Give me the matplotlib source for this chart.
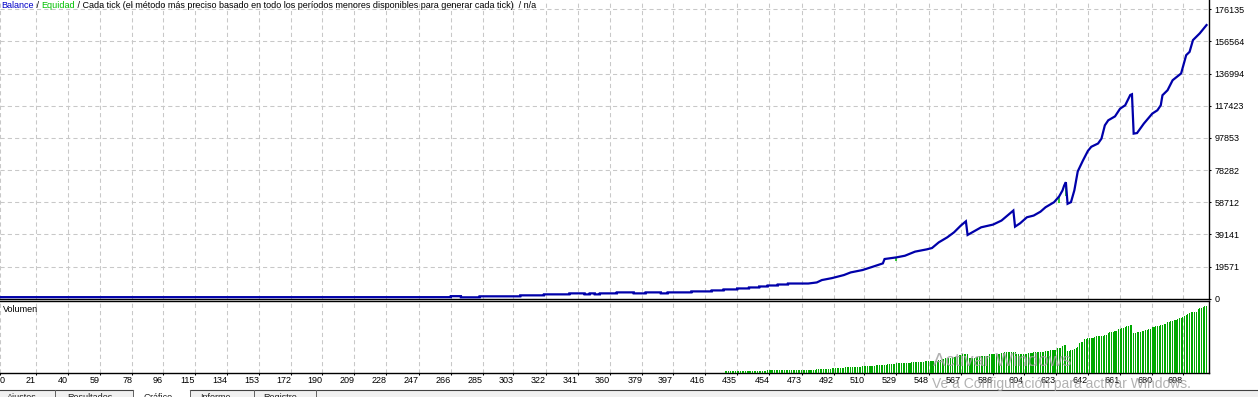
import numpy as np
import matplotlib
matplotlib.use('Agg')
import matplotlib.pyplot as plt
from matplotlib.patches import Rectangle
from matplotlib.lines import Line2D

plt.rcParams['font.family'] = ['Liberation Sans', 'DejaVu Sans']

# balance curve: trade number -> balance
bal_trade = [0, 266, 266, 272, 272, 283, 283, 307, 307, 321, 321, 336, 336, 345, 345, 348, 348, 351, 351, 354,
             354, 364, 364, 374, 374, 381, 381, 390, 390, 394, 394, 408, 408, 420, 420, 427, 427, 435, 435, 442,
             442, 448, 448, 453, 453, 459, 459, 465, 465, 477,
             482, 485, 491, 498, 502, 509, 515, 521, 522, 529, 534, 540, 547, 550, 554, 559, 563, 567, 570, 571,
             579, 586, 591, 598, 599, 602, 606, 610, 614, 617, 622, 625, 627, 628, 629, 630, 632, 634, 636, 639,
             642, 644, 648, 650, 652, 654, 658, 661, 664, 667, 668, 669, 671, 675, 680, 683, 685, 686, 689, 692,
             697, 700, 702, 704, 708, 712]
bal_value = [1000, 1000, 1600, 1600, 900, 900, 1500, 1500, 2100, 2100, 2700, 2700, 3300, 3300, 2700, 2700, 3300, 3300, 2700, 2700,
             3300, 3300, 3900, 3900, 3300, 3300, 3900, 3900, 3300, 3300, 3900, 3900, 4500, 4500, 5100, 5100, 5700, 5700, 6300, 6300,
             6900, 6900, 7500, 7500, 8100, 8100, 8700, 8700, 9300, 9300,
             9950, 11400, 12600, 14450, 16050, 17500, 19500, 21550, 24200, 25200, 26200, 28700, 30100, 30900, 34350, 37400, 40450, 44550, 47150, 38850,
             43500, 45150, 47600, 53700, 43900, 45950, 49600, 50650, 53000, 55700, 58750, 62250, 65900, 68950, 70950, 57800, 58800, 66000, 77500, 84000,
             90000, 92500, 94500, 97450, 105550, 108600, 111000, 115700, 117750, 124000, 124450, 100500, 100850, 106600, 112700, 114700, 117750, 123850, 126900, 133000,
             137100, 148250, 150250, 157400, 161500, 166550]

# equity dips (trade, balance at that moment, lowest equity)
eq_trade = [529, 625, 629]
eq_top = [25200, 62250, 68950]
eq_low = [23200, 58100, 62800]

# volume per trade, lots, first visible bar is trade 428
vol_start = 428
volume = [
    0.05, 0.05, 0.05, 0.05, 0.05, 0.05, 0.05, 0.05, 0.05, 0.05,
    0.05, 0.05, 0.05, 0.05, 0.05, 0.05, 0.05, 0.05, 0.05, 0.05,
    0.05, 0.05, 0.05, 0.05, 0.05,
    0.07, 0.07, 0.07, 0.07, 0.07, 0.07, 0.07, 0.07, 0.07, 0.07,
    0.08, 0.08, 0.08, 0.08, 0.08, 0.08, 0.08, 0.08, 0.08, 0.08,
    0.08, 0.08, 0.08, 0.08, 0.08, 0.08, 0.08, 0.08, 0.08,
    0.10, 0.10, 0.10, 0.10, 0.10, 0.10, 0.10, 0.10, 0.10,
    0.12, 0.12, 0.12, 0.13, 0.13, 0.13, 0.13, 0.13,
    0.15, 0.15, 0.15, 0.15, 0.15, 0.15, 0.15, 0.15, 0.15, 0.15,
    0.17, 0.17, 0.17, 0.17, 0.18, 0.18, 0.18, 0.18,
    0.20, 0.20, 0.20, 0.20, 0.20, 0.20, 0.20,
    0.22, 0.22, 0.22, 0.23, 0.23,
    0.25, 0.25, 0.25, 0.25, 0.25, 0.25, 0.25, 0.25, 0.25,
    0.27, 0.27, 0.27, 0.27, 0.28, 0.28, 0.28, 0.28,
    0.30, 0.30, 0.30, 0.30, 0.30, 0.30, 0.30, 0.30,
    0.33, 0.33, 0.34, 0.34,
    0.37, 0.37, 0.38, 0.38, 0.39, 0.39, 0.40, 0.40,
    0.44, 0.45, 0.46, 0.46, 0.47, 0.47,
    0.36, 0.36, 0.37, 0.37,
    0.40, 0.40, 0.41, 0.41, 0.41, 0.42, 0.42, 0.42,
    0.46, 0.46, 0.47, 0.47, 0.48, 0.48, 0.48,
    0.50, 0.50, 0.51, 0.51, 0.52, 0.52, 0.53, 0.53, 0.53,
    0.47, 0.47, 0.47, 0.47, 0.48, 0.48, 0.48,
    0.50, 0.50, 0.50, 0.51, 0.51, 0.51, 0.52, 0.52, 0.52, 0.52,
    0.54, 0.55, 0.55, 0.56, 0.57, 0.58, 0.58,
    0.61, 0.62, 0.63,
    0.67, 0.69, 0.70,
    0.54, 0.55, 0.56, 0.57,
    0.60, 0.62, 0.64,
    0.75, 0.77, 0.78,
    0.84, 0.85, 0.86, 0.86, 0.87, 0.88,
    0.90, 0.91, 0.91, 0.92, 0.93, 0.93, 0.94, 0.95,
    1.00, 1.01, 1.02, 1.03, 1.04, 1.05,
    1.09, 1.10, 1.12, 1.13, 1.15, 1.16, 1.18, 1.19, 1.20,
    0.99, 1.00, 1.01, 1.02, 1.03, 1.04, 1.05, 1.06, 1.07, 1.09, 1.10,
    1.14, 1.15, 1.16, 1.17, 1.18, 1.19, 1.20, 1.21, 1.22,
    1.27, 1.28, 1.29, 1.30, 1.32, 1.33, 1.34, 1.36, 1.37,
    1.39, 1.42, 1.45, 1.48, 1.50,
    1.52, 1.52, 1.53, 1.53,
    1.60, 1.61, 1.62, 1.64, 1.66, 1.68,
]

y_ticks = [0, 19571, 39141, 58712, 78282, 97853, 117423, 136994, 156564, 176135]
x_ticks = [0, 21, 40, 59, 78, 96, 115, 134, 153, 172, 190, 209, 228, 247, 266, 285, 303, 322, 341, 360,
           379, 397, 416, 435, 454, 473, 492, 510, 529, 548, 567, 586, 604, 623, 642, 661, 680, 698]

header_parts = [('Balance', '#0000c8'), (' / ', 'black'), ('Equidad', '#00c000'),
                (' / Cada tick (el método más preciso basado en todo los períodos menores disponibles para generar cada tick)  / n/a', 'black')]
tabs = [('Ajustes', 7), ('Resultados', 67), ('Gráfico', 144), ('Informe', 200), ('Registro', 263)]

W, H = 1258, 397
fig = plt.figure(figsize=(W / 100, H / 100), dpi=100)
fig.patch.set_facecolor('white')

def fx(px):
    return px / W

def fy(py):
    return 1 - py / H

grid_kw = dict(color='#c8c8c8', linewidth=0.75, linestyle=(0, (4, 3)))
xlim = (2.96, 713.46)

# main balance panel
ax = fig.add_axes([0, fy(298.8), fx(1209), 1 - fy(298.8)])
ax.set_xlim(*xlim)
ax.set_ylim(0, 181800)
ax.plot(bal_trade, bal_value, color='#0000aa', linewidth=1.6, zorder=3, solid_joinstyle='miter')
ax.vlines(eq_trade, eq_low, eq_top, color='#00c000', linewidth=1.1, zorder=2)
ax.set_yticks(y_ticks)
ax.set_yticklabels([str(v) for v in y_ticks])
ax.yaxis.tick_right()
ax.tick_params(axis='y', direction='out', length=1.5, width=0.75, pad=2.5, labelsize=6.5, colors='black')
ax.set_xticks(x_ticks)
ax.tick_params(axis='x', length=0, labelbottom=False)
ax.grid(True, **grid_kw)
ax.set_axisbelow(True)
for s in ['left', 'top']:
    ax.spines[s].set_visible(False)
for s in ['right', 'bottom']:
    ax.spines[s].set_linewidth(1.0)
    ax.spines[s].set_color('black')

# header line built piece by piece
prev = ax.text(fx(1), fy(1.5), header_parts[0][0], transform=fig.transFigure, color=header_parts[0][1],
               fontsize=6.5, ha='left', va='top')
for txt, col in header_parts[1:]:
    prev = ax.annotate(txt, xy=(1, 0), xycoords=prev, ha='left', va='bottom', color=col,
                       fontsize=6.5, annotation_clip=False)

# volume panel
axv = fig.add_axes([0, fy(372.7), fx(1209), fy(300.5) - fy(372.7)])
axv.set_xlim(*xlim)
vol_x = np.arange(vol_start, vol_start + len(volume))
axv.bar(vol_x, volume, width=0.62, color='#00a800', linewidth=0, zorder=3)
axv.set_ylim(0, max(volume) * 72.2 / 67)
axv.set_yticks([])
axv.set_xticks(x_ticks)
axv.set_xticklabels([str(v) for v in x_ticks])
for lbl in axv.get_xticklabels():
    lbl.set_ha('right')
axv.tick_params(axis='x', direction='out', length=1.5, width=0.75, pad=1.2, labelsize=6.5, colors='black')
axv.grid(True, axis='x', **grid_kw)
axv.set_axisbelow(True)
axv.spines['left'].set_visible(False)
for s in ['right', 'bottom', 'top']:
    axv.spines[s].set_linewidth(1.0)
    axv.spines[s].set_color('black')
axv.text(fx(3), fy(309), 'Volumen', transform=fig.transFigure, fontsize=6.5, ha='left', va='center')
fig.text(fx(0), fy(380.5), '0', fontsize=6.5, ha='left', va='center')

# windows watermark
fig.text(fx(933), fy(362), 'Activar Windows', fontsize=13.5, color='#a4a4a4', alpha=0.85, ha='left', va='center', zorder=10)
fig.text(fx(932), fy(384), 'Ve a Configuración para activar Windows.', fontsize=10, color='#a4a4a4', alpha=0.85,
         ha='left', va='center', zorder=10)

# tab strip at the bottom
fig.patches.append(Rectangle((0, 0), 1, fy(390), transform=fig.transFigure, facecolor='#f0f0f0', edgecolor='none', zorder=0))
fig.patches.append(Rectangle((fx(133), 0), fx(57), fy(389), transform=fig.transFigure, facecolor='white', edgecolor='none', zorder=0))
fig.lines.append(Line2D([0, fx(133)], [fy(390), fy(390)], transform=fig.transFigure, color='#404040', linewidth=0.8))
fig.lines.append(Line2D([fx(190), 1], [fy(390), fy(390)], transform=fig.transFigure, color='#404040', linewidth=0.8))
for sx in [55, 133, 190, 254, 316]:
    fig.lines.append(Line2D([fx(sx), fx(sx)], [0, fy(390)], transform=fig.transFigure, color='#606060', linewidth=0.7))
for name, px in tabs:
    fig.text(fx(px), fy(393), name, fontsize=6.5, ha='left', va='top', color='#202020')

fig.savefig('out.png', dpi=100)
